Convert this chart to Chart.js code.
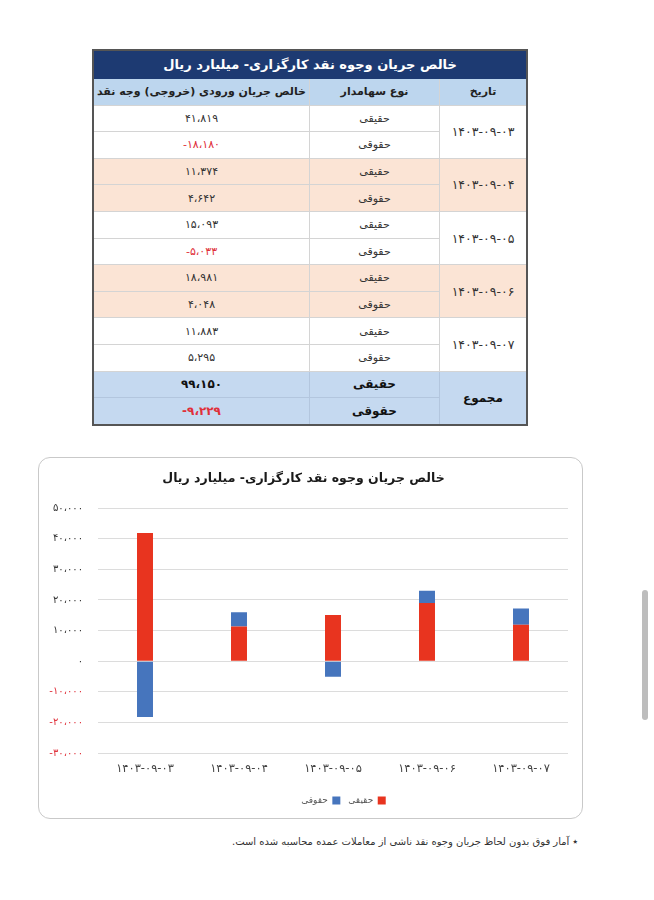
<!DOCTYPE html>
<html lang="fa">
<head>
  <meta charset="UTF-8">
  <title>خالص جریان وجوه نقد کارگزاری</title>
  <script src="https://cdn.jsdelivr.net/npm/chart.js"></script>
  <style>
    body { margin: 0; background: #fff; font-family: "DejaVu Sans", sans-serif; }
    #tbl {
      position: absolute; left: 92px; top: 49px; width: 436px;
      border-collapse: collapse; direction: rtl; border: 2px solid #555;
      font-size: 11px; color: #333;
    }
    #tbl td, #tbl th { border: 1px solid #d4d4d4; text-align: center; padding: 0; height: 25.6px; white-space: nowrap; }
    #tbl .title th { background: #1d3a72; color: #fff; font-size: 13px; height: 27px; border-color: #1d3a72; }
    #tbl .head th { background: #bdd6ee; color: #222; font-size: 11px; }
    #tbl .num { direction: ltr; }
    #tbl .date { font-size: 12.5px; }
    #tbl td.neg { color: #e0303a; }
    #tbl .peach td { background: #fbe4d5; }
    #tbl .tot td { background: #c5d9f0; font-weight: bold; color: #111; font-size: 12px; border-color: #b3c6de; }
    #tbl .tot td.neg { color: #e0303a; }
    #box {
      position: absolute; left: 38px; top: 457px; width: 543px; height: 360px;
      border: 1px solid #c9c9c9; border-radius: 12px; overflow: hidden;
    }
    #note {
      position: absolute; right: 76px; top: 836px; direction: rtl;
      font-size: 10px; color: #333;
    }
    #scroll {
      position: absolute; left: 642px; top: 590px; width: 6px; height: 130px;
      background: #bdbdbd; border-radius: 3px;
    }
  </style>
</head>
<body>

<table id="tbl"></table>
<div id="box"><canvas id="myChart" width="543" height="360"></canvas></div>
<div id="note">٭ آمار فوق بدون لحاظ جریان وجوه نقد ناشی از معاملات عمده محاسبه شده است.</div>
<div id="scroll"></div>

<script>
  // داده‌ها
  const dates = ['۱۴۰۳-۰۹-۰۳', '۱۴۰۳-۰۹-۰۴', '۱۴۰۳-۰۹-۰۵', '۱۴۰۳-۰۹-۰۶', '۱۴۰۳-۰۹-۰۷'];
  const haghighi = [41819, 11374, 15093, 18981, 11883];   // حقیقی
  const hoghooghi = [-18180, 4642, -5033, 4048, 5295];    // حقوقی
  const totals = [99150, -9229];                          // مجموع
  const title = 'خالص جریان وجوه نقد کارگزاری- میلیارد ریال';

  // عدد به رقم فارسی با جداکننده هزارگان
  function fa(n) {
    const s = Math.abs(n).toString().replace(/\B(?=(\d{3})+(?!\d))/g, '،');
    const d = s.replace(/\d/g, c => '۰۱۲۳۴۵۶۷۸۹'[c]);
    return (n < 0 ? '-' : '') + d;
  }

  // جدول
  const tbl = document.getElementById('tbl');
  let html = '<tr class="title"><th colspan="3">' + title + '</th></tr>';
  html += '<tr class="head"><th style="width:86px">تاریخ</th><th style="width:129px">نوع سهامدار</th><th>خالص جریان ورودی (خروجی) وجه نقد</th></tr>';
  dates.forEach((d, i) => {
    const cls = i % 2 === 1 ? ' class="peach"' : '';
    const c2 = hoghooghi[i] < 0 ? 'num neg' : 'num';
    html += '<tr' + cls + '><td rowspan="2" class="num date">' + d + '</td><td>حقیقی</td><td class="num">' + fa(haghighi[i]) + '</td></tr>';
    html += '<tr' + cls + '><td>حقوقی</td><td class="' + c2 + '">' + fa(hoghooghi[i]) + '</td></tr>';
  });
  html += '<tr class="tot"><td rowspan="2">مجموع</td><td>حقیقی</td><td class="num">' + fa(totals[0]) + '</td></tr>';
  html += '<tr class="tot"><td>حقوقی</td><td class="num neg">' + fa(totals[1]) + '</td></tr>';
  tbl.innerHTML = html;

  // legend کمی به راست، مثل تصویر اصلی
  const legendShift = {
    id: 'legendShift',
    afterLayout(chart) {
      chart.legend.left += 40;
      chart.legend.right += 40;
    }
  };

  // نمودار
  const ctx = document.getElementById('myChart').getContext('2d');
  new Chart(ctx, {
    type: 'bar',
    data: {
      labels: dates,
      datasets: [
        { label: 'حقیقی', data: haghighi, backgroundColor: '#e8341f' },
        { label: 'حقوقی', data: hoghooghi, backgroundColor: '#4675bd' }
      ]
    },
    options: {
      responsive: false,
      animation: false,
      layout: { padding: { left: 0, right: 14, bottom: 3 } },
      datasets: { bar: { categoryPercentage: 1, barPercentage: 0.17 } },
      plugins: {
        title: {
          display: true, text: title, color: '#1a1a1a',
          font: { family: 'DejaVu Sans', size: 12.5, weight: 'bold' },
          padding: { top: 13, bottom: 22 }
        },
        legend: {
          position: 'bottom', rtl: true,
          labels: { boxWidth: 8, boxHeight: 8, padding: 8, color: '#555', font: { family: 'DejaVu Sans', size: 9 } }
        },
        tooltip: { enabled: false }
      },
      scales: {
        x: {
          stacked: true,
          grid: { display: false },
          border: { display: false },
          ticks: { color: '#444', font: { family: 'DejaVu Sans', size: 11.5 }, padding: 1 },
          afterFit: s => { s.height += 11; }
        },
        y: {
          stacked: true, min: -30000, max: 50000,
          grid: { color: '#dcdcdc', drawTicks: false },
          border: { display: false },
          afterFit: s => { s.width = 59; },
          ticks: {
            stepSize: 10000, padding: 15,
            color: c => c.tick.value < 0 ? '#e0303a' : '#333',
            font: { family: 'DejaVu Sans', size: 10 },
            callback: v => fa(v)
          }
        }
      }
    },
    plugins: [legendShift]
  });
</script>

</body>
</html>
